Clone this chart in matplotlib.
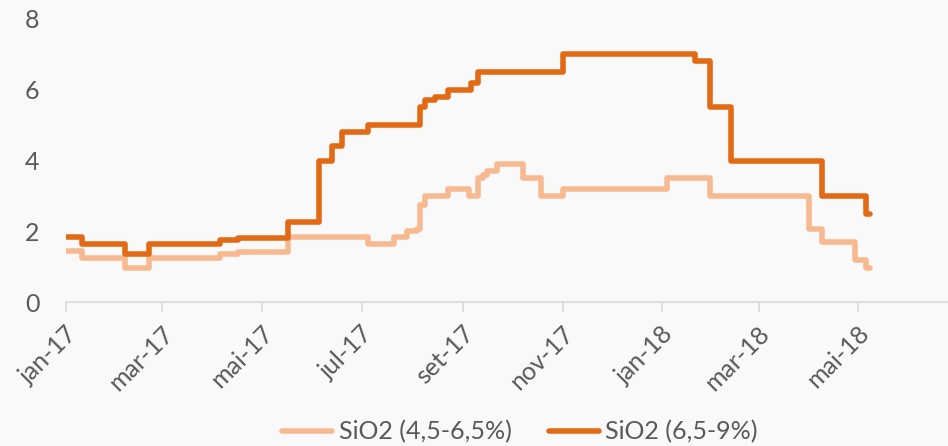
import datetime
import matplotlib
matplotlib.use('Agg')
import matplotlib.pyplot as plt
from matplotlib.transforms import ScaledTranslation

# SiO2 (4,5-6,5%) - datas de mudança e valores
datas_baixo = ['2017-01-01', '2017-01-11', '2017-02-06', '2017-02-21', '2017-04-05',
               '2017-04-16', '2017-05-17', '2017-07-05', '2017-07-21', '2017-07-29',
               '2017-08-04', '2017-08-06', '2017-08-09', '2017-08-23', '2017-09-05',
               '2017-09-10', '2017-09-13', '2017-09-16', '2017-09-22', '2017-10-08',
               '2017-10-19', '2017-11-01', '2018-01-04', '2018-01-30', '2018-04-01',
               '2018-04-09', '2018-04-29', '2018-05-06', '2018-05-08']
valores_baixo = [1.45, 1.25, 0.95, 1.25, 1.35,
                 1.4, 1.85, 1.65, 1.85, 2.0,
                 2.05, 2.75, 3.0, 3.2, 3.0,
                 3.5, 3.6, 3.7, 3.9, 3.5,
                 3.0, 3.2, 3.5, 3.0, 2.05,
                 1.7, 1.2, 0.95, 0.95]

# SiO2 (6,5-9%)
datas_alto = ['2017-01-01', '2017-01-11', '2017-02-06', '2017-02-21', '2017-04-05',
              '2017-04-16', '2017-05-17', '2017-06-05', '2017-06-13', '2017-06-19',
              '2017-07-05', '2017-08-06', '2017-08-09', '2017-08-15', '2017-08-23',
              '2017-09-06', '2017-09-10', '2017-11-01', '2018-01-21', '2018-01-30',
              '2018-02-12', '2018-04-09', '2018-05-06', '2018-05-08']
valores_alto = [1.85, 1.65, 1.35, 1.65, 1.75,
                1.8, 2.25, 4.0, 4.4, 4.8,
                5.0, 5.5, 5.7, 5.8, 6.0,
                6.2, 6.5, 7.0, 6.8, 5.5,
                4.0, 3.0, 2.5, 2.5]

meses = ['jan', 'fev', 'mar', 'abr', 'mai', 'jun', 'jul', 'ago', 'set', 'out', 'nov', 'dez']


def para_data(lista):
    return [datetime.datetime.strptime(d, '%Y-%m-%d') for d in lista]


fig = plt.figure(figsize=(9.48, 4.46), dpi=100)
fig.patch.set_facecolor('#f9f9f9')
ax = fig.add_axes([66 / 948, 144 / 446, (948 - 66) / 948, 283 / 446])
ax.set_facecolor('none')

ax.plot(para_data(datas_baixo), valores_baixo, drawstyle='steps-post', color='#F7B990',
        lw=4, solid_capstyle='round', solid_joinstyle='round', label='SiO2 (4,5-6,5%)')
ax.plot(para_data(datas_alto), valores_alto, drawstyle='steps-post', color='#E36A15',
        lw=4, solid_capstyle='round', solid_joinstyle='round', label='SiO2 (6,5-9%)')

ax.set_ylim(0, 8)
ax.set_yticks([0, 2, 4, 6, 8])
ax.set_xlim(datetime.datetime(2017, 1, 1), datetime.datetime(2018, 6, 25))
ticks = [datetime.datetime(2017 + (m // 12), m % 12 + 1, 1) for m in range(0, 17, 2)]
ax.set_xticks(ticks)
ax.set_xticklabels([f'{meses[t.month - 1]}-{t.year % 100}' for t in ticks],
                   rotation=45, ha='right', va='center', rotation_mode='anchor')

for s in ['top', 'right', 'left']:
    ax.spines[s].set_visible(False)
ax.spines['bottom'].set_color('#d9d9d9')
ax.spines['bottom'].set_linewidth(1.2)
ax.tick_params(axis='x', colors='#d9d9d9', length=7, width=1.2, labelcolor='#595959',
               labelsize=18, pad=13)
ax.tick_params(axis='y', length=0, labelcolor='#595959', labelsize=18, pad=19)
for lab in ax.get_xticklabels() + ax.get_yticklabels():
    lab.set_fontfamily('Lato')
deslocar = ScaledTranslation(7 / 100, 0, fig.dpi_scale_trans)
for lab in ax.get_xticklabels():
    lab.set_transform(lab.get_transform() + deslocar)

fig.legend(loc='center', bbox_to_anchor=(520 / 948, 1 - 432 / 446), ncol=2,
           frameon=False, prop={'family': 'Lato', 'size': 18}, handlelength=2.0,
           columnspacing=1.5, handletextpad=0.25, labelcolor='#595959')

plt.savefig('out.png', dpi=100, facecolor=fig.get_facecolor())
